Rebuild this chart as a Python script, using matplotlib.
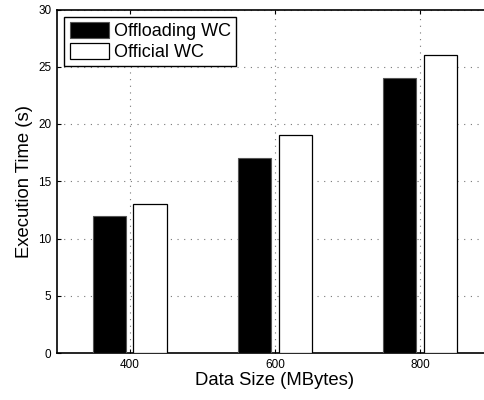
import matplotlib
matplotlib.use("Agg")
import matplotlib.pyplot as plt
import numpy as np

plt.rcParams['font.family'] = ['Liberation Sans', 'DejaVu Sans']

sizes = [400, 600, 800]
offloading_wc = [12, 17, 24]
official_wc = [13, 19, 26]
series_labels = ["Offloading WC", "Official WC"]

fig = plt.figure(figsize=(4.85, 4.0), dpi=100)
ax = fig.add_axes([57 / 485, 1 - 353 / 400, (492.75 - 57) / 485, (353 - 9.5) / 400])

x = np.array(sizes, dtype=float)
bw = 46
off = 28
ax.bar(x - off, offloading_wc, width=bw, color="black", edgecolor="#555555",
       linewidth=0.8, label=series_labels[0], zorder=3)
ax.bar(x + off, official_wc, width=bw, color="white", edgecolor="black",
       linewidth=0.9, label=series_labels[1], zorder=3)

ax.set_xlim(300, 900)
ax.set_ylim(0, 30)
ax.set_xticks(sizes)
ax.set_yticks(np.arange(0, 31, 5))
ax.tick_params(direction="in", length=3, width=0.8, labelsize=8.5,
               top=True, right=False, pad=4)
ax.grid(True, linestyle=(0, (1, 5)), color="#777777", linewidth=0.8, zorder=0)
for s in ax.spines.values():
    s.set_linewidth(1.2)
ax.spines["right"].set_visible(False)
ax.set_xlabel("Data Size (MBytes)", fontsize=13.3, labelpad=1)
ax.set_ylabel("Execution Time (s)", fontsize=13.3, labelpad=4)

leg = ax.legend(loc="upper left", fontsize=13, fancybox=False, framealpha=1,
                edgecolor="black", borderaxespad=0.4, handlelength=2.2,
                handleheight=1.0, handletextpad=0.25, borderpad=0.3,
                labelspacing=0.12)
leg.get_frame().set_linewidth(1.0)
leg.set_zorder(5)

fig.savefig("out.png", dpi=100)
